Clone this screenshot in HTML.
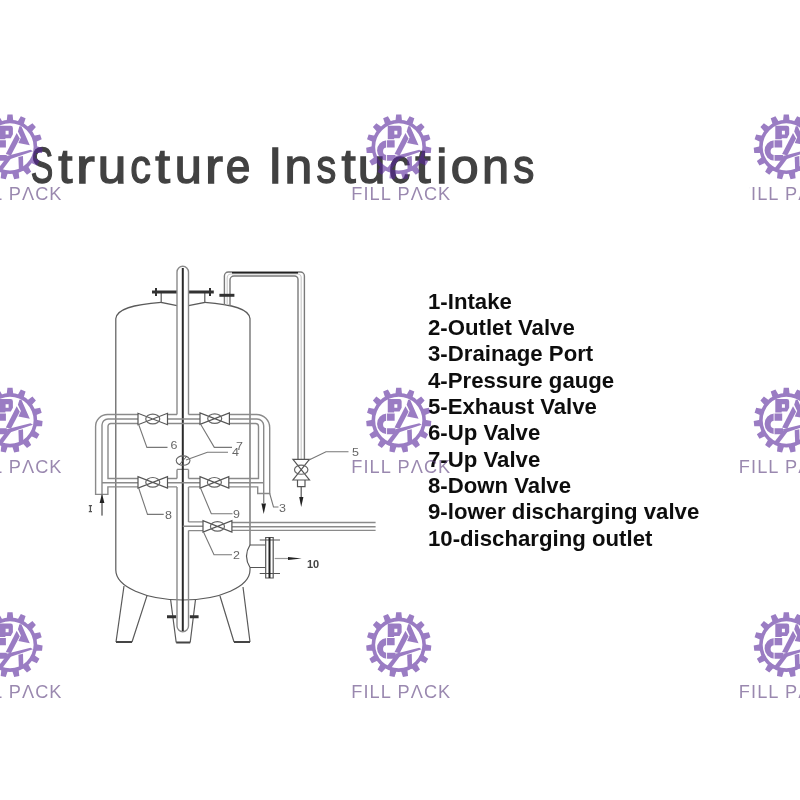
<!DOCTYPE html>
<html><head><meta charset="utf-8"><style>
html,body{margin:0;padding:0;background:#fff;width:800px;height:800px;overflow:hidden}
svg{display:block}
</style></head><body>
<svg width="800" height="800" viewBox="0 0 800 800">
<defs>

<symbol id="logo" overflow="visible">
 <g fill="#58269b">
  <path d="M-3.30,-26.00 L-2.60,-32.50 L2.60,-32.50 L3.30,-26.00 Z M7.56,-25.09 L10.84,-30.75 L15.59,-28.63 L13.59,-22.41 Z M17.11,-19.85 L22.41,-23.68 L25.89,-19.81 L21.53,-14.95 Z M23.71,-11.17 L30.11,-12.52 L31.71,-7.57 L25.75,-4.90 Z M26.20,-0.56 L32.59,0.81 L32.05,5.98 L25.51,6.00 Z M24.17,10.14 L29.45,14.00 L26.85,18.50 L20.87,15.86 Z M17.95,19.09 L21.21,24.76 L17.00,27.82 L12.61,22.97 Z M8.63,24.75 L9.30,31.25 L4.21,32.33 L2.18,26.12 Z M-2.18,26.12 L-4.21,32.33 L-9.30,31.25 L-8.63,24.75 Z M-12.61,22.97 L-17.00,27.82 L-21.21,24.76 L-17.95,19.09 Z M-20.87,15.86 L-26.85,18.50 L-29.45,14.00 L-24.17,10.14 Z M-25.51,6.00 L-32.05,5.98 L-32.59,0.81 L-26.20,-0.56 Z M-25.75,-4.90 L-31.71,-7.57 L-30.11,-12.52 L-23.71,-11.17 Z M-21.53,-14.95 L-25.89,-19.81 L-22.41,-23.68 L-17.11,-19.85 Z M-13.59,-22.41 L-15.59,-28.63 L-10.84,-30.75 L-7.56,-25.09 Z"/>
  <path fill-rule="evenodd" d="M0,-27.2 A27.2,27.2 0 1,1 0,27.2 A27.2,27.2 0 1,1 0,-27.2 Z M0,-23.6 A23.6,23.6 0 1,0 0,23.6 A23.6,23.6 0 1,0 0,-23.6 Z"/>
  <!-- P -->
  <path fill-rule="evenodd" d="M-11,-21.2 H0.6 Q2.9,-21.2 2.9,-18.8 V-12.6 L0.8,-8.7 H-4.6 V-7.7 H-11 Z M-4.4,-16.1 h3 v3.6 h-3 z"/>
  <!-- A body -->
  <path d="M9.4,-20.6 L11.4,-20.6 L19.8,-1.6 L8.4,-3.8 L10.9,-9.3 L7.9,-15.4 Z"/>
  <!-- diagonal band -->
  <path d="M6.7,-13.9 L9.8,-8.5 L0.9,8.6 L-4.2,7.2 Z"/>
  <!-- C -->
  <path d="M-12.2,-6.75 L-4.1,-6.75 L-4.1,0.5 L-11.9,0.5 A3.8,3.8 0 0,0 -11.9,8.1 L-3.4,8.1 L-2.6,10.9 L-3.4,13.9 L-11.9,13.9 A10.35,10.35 0 0,1 -12.2,-6.75 Z"/>
  <!-- crossbar -->
  <path d="M-3.4,9.0 L20.5,2.9 L23,4.4 L-1.6,12.8 Z"/>
  <!-- lower-left diagonal -->
  <path d="M-3.0,10.2 L1.4,11.2 L-8.6,24.4 L-13.4,23.6 Z"/>
  <!-- vertical bottom bar -->
  <path d="M8.4,10.0 L13,9.0 L13.4,24 L8.9,24 Z"/>
  <path d="M-12.2,-7.2 V14.5" stroke="#fff" stroke-width="0.9" fill="none"/>
 </g>
 <text x="-47.5" y="53" font-family="Liberation Sans" font-size="18.2" fill="#573a7b" textLength="99" lengthAdjust="spacing">FILL P&#923;CK</text>
</symbol>

<filter id="bl" x="-5%" y="-20%" width="110%" height="140%"><feGaussianBlur stdDeviation="0.65"/></filter>
<filter id="bl3"><feGaussianBlur stdDeviation="0.25"/></filter>
<filter id="bl2"><feGaussianBlur stdDeviation="0.3"/></filter>
</defs>
<rect width="800" height="800" fill="#fff"/>
<g font-family="Liberation Sans" font-size="50.5" fill="#424242" stroke="#424242" stroke-width="1.4" filter="url(#bl)"><text transform="translate(41.95,183.0) scale(0.668,1.0)" x="-16.83">S</text><text transform="translate(65.50,183.0) scale(1.014,0.96)" x="-7.21">t</text><text transform="translate(86.88,183.0) scale(1.119,0.96)" x="-9.67">r</text><text transform="translate(111.88,183.0) scale(1.017,0.96)" x="-14.01">u</text><text transform="translate(140.93,183.0) scale(0.817,0.96)" x="-13.03">c</text><text transform="translate(162.80,183.0) scale(1.054,0.96)" x="-7.21">t</text><text transform="translate(188.15,183.0) scale(0.963,0.96)" x="-14.01">u</text><text transform="translate(215.25,183.0) scale(1.067,0.96)" x="-9.67">r</text><text transform="translate(238.15,183.0) scale(0.879,0.96)" x="-13.99">e</text><text transform="translate(275.20,183.0) scale(0.999,1.0)" x="-7.02">I</text><text transform="translate(298.45,183.0) scale(0.989,0.96)" x="-14.08">n</text><text transform="translate(326.25,183.0) scale(0.782,0.96)" x="-12.42">s</text><text transform="translate(348.75,183.0) scale(1.014,0.96)" x="-7.21">t</text><text transform="translate(371.50,183.0) scale(0.985,0.96)" x="-14.01">u</text><text transform="translate(400.00,183.0) scale(0.845,0.96)" x="-13.03">c</text><text transform="translate(423.12,183.0) scale(1.098,0.96)" x="-7.21">t</text><text transform="translate(441.88,183.0) scale(0.986,0.96)" x="-5.60">i</text><text transform="translate(464.70,183.0) scale(0.994,0.96)" x="-14.04">o</text><text transform="translate(495.65,183.0) scale(0.963,0.96)" x="-14.08">n</text><text transform="translate(523.75,183.0) scale(0.836,0.96)" x="-12.42">s</text></g>
<g filter="url(#bl2)">

<g fill="none" stroke-linecap="butt">
 <!-- tank walls -->
 <g stroke="#5a5a5a" stroke-width="1.2">
  <path d="M115.8,570 V318.6 C117,309 133,304.5 161.2,302.4"/>
  <path d="M250,545 V318.6 C249,309 233,304.5 204.8,302.4"/>
  <path d="M250,567.5 V570"/>
  <path d="M161.2,292 V302.4 L177,305.6 M188.5,305.6 L204.8,302.4 V292"/>
  <path d="M115.8,570 A67.1,30 0 0,0 250,570"/>
  <!-- legs -->
  <path d="M124,586 L116,642 M132,642 L147,595.6"/>
  <path d="M220,596 L234,642 M250,642 L243,587"/>
  <!-- drain skirt -->
  <path d="M170.6,599.5 L176.2,642.5 M195.5,599.5 L190.2,642.5"/>
 </g>
 <g stroke="#444" stroke-width="2">
  <path d="M116,642 H132 M234,642 H250 M176.2,642.5 H190.2"/>
 </g>
 <!-- flanges top -->
 <g stroke="#333" stroke-width="3">
  <path d="M152,291.9 H177 M188.5,291.9 H213.8"/>
  <path d="M167,616.7 H176.2 M189.8,616.7 H198.6"/>
 </g>
 <g stroke="#333" stroke-width="2">
  <path d="M156,288 V296 M210,288 V296"/>
 </g>
 <!-- central pipe -->
 <g stroke="#8a8a8a" stroke-width="1.4">
  <path d="M177,414.5 V272 A5.75,5.75 0 0,1 188.5,272 V414.5"/>
  <path d="M167.5,414.5 H177 M188.5,414.5 H200"/>
  <path d="M177,469.4 H188.5 M177,469.4 V478.5 M188.5,469.4 V478.5"/>
  <path d="M177,486.9 V626 A5.75,5.75 0 0,0 188.5,626 V530.6 M188.5,486.9 V521.9"/>
 </g>
 <path d="M182.8,268 V631" stroke="#2a2a2a" stroke-width="2"/>
 <!-- manifolds -->
 <g stroke="#8a8a8a" stroke-width="1.4">
  <!-- upper -->
  <path d="M138,414.5 H107.5 A11.9,11.9 0 0,0 95.6,426.4 V494.4 H107.9 V486.9 H138"/>
  <path d="M138,419 H108 A6,6 0 0,0 102,425 V503"/>
  <path d="M138,423.5 H110.9 A2.9,2.9 0 0,0 108,426.4 V478.5 H138"/>
  <path d="M167.5,419 H200 M167.5,423.5 H200"/>
  <path d="M229.4,414.5 H256.5 A13.2,13.2 0 0,1 269.7,427.7 V493.5 H257.7 V486.9 H228.8"/>
  <path d="M229.4,419 H257 A6.7,6.7 0 0,1 263.7,425.7 V503"/>
  <path d="M229.4,423.5 H255.5 A3,3 0 0,1 258.5,426.5 V478.5 H228.8"/>
  <!-- lower -->
  <path d="M102,482.75 H138 M167.5,482.75 H200 M228.8,482.75 H263.7"/>
  <path d="M167.5,478.5 H177 M188.5,478.5 H200 M167.5,486.9 H177 M188.5,486.9 H200"/>
  <!-- outlet pipe -->
  <path d="M188.5,521.9 H203 M188.5,530.6 H203 M182.8,526.25 H203"/>
  <path d="M231.9,522.5 H375.6 M231.9,526.7 H375.6 M231.9,530.4 H375.6"/>
 </g>
 <!-- top small pipe and right pipe -->
 <g stroke="#7a7a7a" stroke-width="1.4">
  <path d="M224.4,305 V276 A4,4 0 0,1 228.4,272 H300.4 A4,4 0 0,1 304.4,276 V459.3"/>
  <path d="M230,306 V280 A4,4 0 0,1 234,276 H294.5 A3.5,3.5 0 0,1 298,279.5 V459.3"/>
 </g>
 <path d="M232,273 H298" stroke="#222" stroke-width="2"/>
 <g stroke="#ccc" stroke-width="1.2">
  <path d="M227.2,305 V278 A4,4 0 0,1 231.2,274 H297.6 A3.6,3.6 0 0,1 301.2,277.6 V459"/>
 </g>
 <path d="M219.4,295.3 H234.4" stroke="#333" stroke-width="3"/>
 <!-- valves -->
 <path d="M138,413.3 V424.7 L167.5,413.3 V424.7 Z" fill="#fff" stroke="#555" stroke-width="1.2"/><ellipse cx="152.75" cy="419" rx="7" ry="4.8" fill="none" stroke="#666" stroke-width="1.2"/>
 <path d="M200,412.90000000000003 V424.3 L229.4,412.90000000000003 V424.3 Z" fill="#fff" stroke="#555" stroke-width="1.2"/><ellipse cx="214.7" cy="418.6" rx="7" ry="4.8" fill="none" stroke="#666" stroke-width="1.2"/>
 <path d="M138,476.6 V488.0 L167.5,476.6 V488.0 Z" fill="#fff" stroke="#555" stroke-width="1.2"/><ellipse cx="152.75" cy="482.3" rx="7" ry="4.8" fill="none" stroke="#666" stroke-width="1.2"/>
 <path d="M200,476.6 V488.0 L228.8,476.6 V488.0 Z" fill="#fff" stroke="#555" stroke-width="1.2"/><ellipse cx="214.4" cy="482.3" rx="7" ry="4.8" fill="none" stroke="#666" stroke-width="1.2"/>
 <path d="M203,520.6999999999999 V532.1 L231.9,520.6999999999999 V532.1 Z" fill="#fff" stroke="#555" stroke-width="1.2"/><ellipse cx="217.45" cy="526.4" rx="7" ry="4.8" fill="none" stroke="#666" stroke-width="1.2"/>
 <path d="M292.95,459.3 H309.45 L292.95,480 H309.45 Z" fill="#fff" stroke="#555" stroke-width="1.2"/><ellipse cx="301.2" cy="469.65" rx="6.7" ry="4.6" fill="none" stroke="#666" stroke-width="1.2"/>
 <g stroke="#555" stroke-width="1.2">
  <path d="M297.5,480 V486.7 H305 V480 M301.2,486.7 V500"/>
 </g>
 <!-- gauge -->
 <ellipse cx="183.1" cy="460.6" rx="6.9" ry="4.7" fill="none" stroke="#666" stroke-width="1.1"/>
 <path d="M179,465 L187,456" stroke="#555" stroke-width="1"/>
 <!-- nozzle 10 -->
 <g stroke="#555" stroke-width="1.2">
  <path d="M250,545 H265.7 M250,567.5 H265.7 M250,545 Q243,556 250,567.5"/>
  <path d="M265.7,537.5 H273.2 V578 H265.7 Z" fill="#fff"/>
  <path d="M259.7,540 H280 M259.7,573.5 H280"/>
  <path d="M274.7,558.5 H290" stroke="#999"/>
 </g>
 <path d="M269.5,537.5 V578" stroke="#222" stroke-width="2"/>
 <!-- arrows -->
 <g fill="#222" stroke="none">
  <path d="M102,493.7 L99.6,503 H104.4 Z"/>
  <path d="M263.7,514 L261.4,503.4 H266 Z"/>
  <path d="M301.2,507 L299.2,497 H303.4 Z"/>
  <path d="M301.7,558.5 L288,557 V560 Z"/>
 </g>
 <g stroke="#222" stroke-width="1">
  <path d="M102,503 V515.6"/>
 </g>
 <!-- leaders -->
 <g stroke="#777" stroke-width="1.1">
  <path d="M138.5,424 L146.9,447.4 H167.5"/>
  <path d="M200.5,424 L214.3,447.4 H232"/>
  <path d="M186,460 L207.4,452.2 H228"/>
  <path d="M138.5,487.5 L147.5,514.4 H163.7"/>
  <path d="M200.5,488 L211.3,513.8 H232.5"/>
  <path d="M203.5,532 L214,554.7 H232"/>
  <path d="M309,460 L326,451.8 H348.5"/>
  <path d="M269.7,493.5 L273.5,507 H278.5"/>
 </g>
 <g>
  <text transform="translate(170.5,449) scale(1.25,1)" font-family="Liberation Sans" font-size="10" fill="#666">6</text>
  <text transform="translate(236,449.5) scale(1.25,1)" font-family="Liberation Sans" font-size="10" fill="#666">7</text>
  <text transform="translate(232,455.5) scale(1.25,1)" font-family="Liberation Sans" font-size="10" fill="#666">4</text>
  <text transform="translate(352,456) scale(1.25,1)" font-family="Liberation Sans" font-size="10" fill="#666">5</text>
  <path d="M88.8,505.6 H92 M90.4,505.6 V511.6 M88.8,511.6 H92" stroke="#555" stroke-width="1.3" fill="none"/>
  <text transform="translate(165,519) scale(1.25,1)" font-family="Liberation Sans" font-size="10" fill="#666">8</text>
  <text transform="translate(233,518) scale(1.25,1)" font-family="Liberation Sans" font-size="10" fill="#666">9</text>
  <text transform="translate(279,512) scale(1.25,1)" font-family="Liberation Sans" font-size="10" fill="#666">3</text>
  <text transform="translate(233,559) scale(1.25,1)" font-family="Liberation Sans" font-size="10" fill="#666">2</text>
  <text transform="translate(307,567.5) scale(1.1,1)" font-family="Liberation Sans" font-size="10" font-weight="bold" fill="#444">10</text>
 </g>
</g>

</g>
<g font-family="Liberation Sans" font-weight="bold" font-size="22.2" fill="#111" filter="url(#bl3)">
<text x="428" y="308.80">1-Intake</text>
<text x="428" y="335.10">2-Outlet Valve</text>
<text x="428" y="361.40">3-Drainage Port</text>
<text x="428" y="387.70">4-Pressure gauge</text>
<text x="428" y="414.00">5-Exhaust Valve</text>
<text x="428" y="440.30">6-Up Valve</text>
<text x="428" y="466.60">7-Up Valve</text>
<text x="428" y="492.90">8-Down Valve</text>
<text x="428" y="519.20">9-lower discharging valve</text>
<text x="428" y="545.50">10-discharging outlet</text>
</g>
<g opacity="0.6">
<use href="#logo" x="10" y="146.9"/>
<use href="#logo" x="398.75" y="146.9"/>
<use href="#logo" x="786.3" y="146.9"/>
<use href="#logo" x="10" y="420.25"/>
<use href="#logo" x="398.75" y="420.25"/>
<use href="#logo" x="786.3" y="420.25"/>
<use href="#logo" x="10" y="644.75"/>
<use href="#logo" x="398.75" y="644.75"/>
<use href="#logo" x="786.3" y="644.75"/>
</g>
<rect x="700" y="182" width="49.5" height="22" fill="#fff"/>
</svg>
</body></html>
